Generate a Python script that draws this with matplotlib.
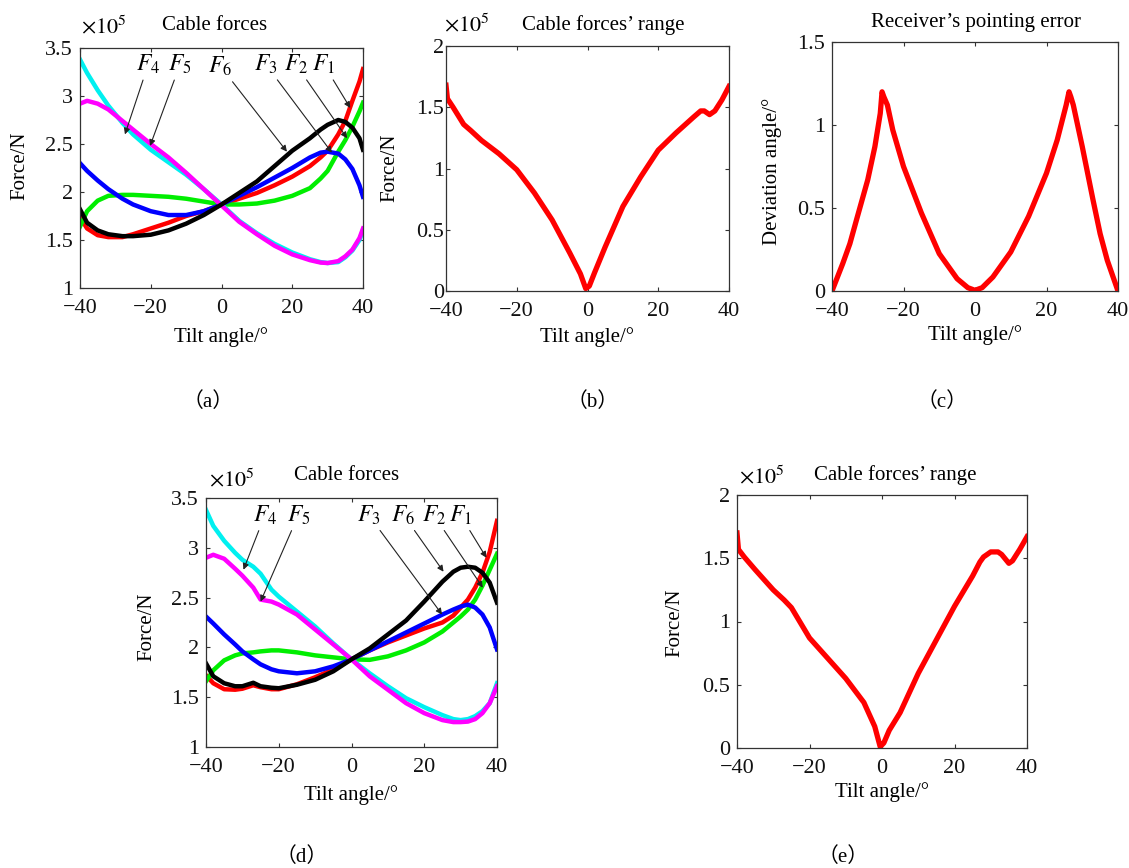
import matplotlib
matplotlib.use('Agg')
import matplotlib.pyplot as plt
from matplotlib.ticker import FuncFormatter

plt.rcParams['font.family'] = ['Liberation Serif', 'Noto Sans CJK SC']
plt.rcParams['mathtext.fontset'] = 'stix'

# cable forces, six cables, first configuration (x1e5 N)
a_x = [-40, -38, -35, -32, -28, -25, -20, -15, -10, -5, 0, 5, 10, 15, 20, 25, 28, 30, 33, 35, 37, 39, 40]
a_f1 = [1.74, 1.62, 1.55, 1.53, 1.53, 1.56, 1.62, 1.68, 1.75, 1.80, 1.87, 1.93, 1.99, 2.07, 2.16, 2.27, 2.36, 2.43, 2.60, 2.74, 2.95, 3.15, 3.28]
a_f2 = [1.64, 1.80, 1.91, 1.96, 1.97, 1.97, 1.96, 1.95, 1.93, 1.90, 1.87, 1.87, 1.88, 1.91, 1.96, 2.04, 2.14, 2.22, 2.42, 2.54, 2.68, 2.84, 2.93]
a_f3 = [2.30, 2.22, 2.12, 2.03, 1.93, 1.87, 1.80, 1.76, 1.76, 1.80, 1.87, 1.96, 2.05, 2.15, 2.25, 2.36, 2.41, 2.42, 2.40, 2.34, 2.24, 2.07, 1.95]
a_f4 = [3.38, 3.24, 3.06, 2.90, 2.72, 2.60, 2.44, 2.31, 2.18, 2.03, 1.87, 1.70, 1.57, 1.46, 1.37, 1.30, 1.27, 1.26, 1.27, 1.32, 1.39, 1.50, 1.60]
a_f5 = [2.92, 2.95, 2.92, 2.86, 2.74, 2.65, 2.50, 2.36, 2.20, 2.03, 1.86, 1.69, 1.56, 1.44, 1.35, 1.29, 1.265, 1.26, 1.28, 1.33, 1.40, 1.52, 1.62]
a_f6 = [1.82, 1.68, 1.60, 1.56, 1.54, 1.54, 1.555, 1.60, 1.67, 1.76, 1.87, 1.99, 2.11, 2.27, 2.43, 2.56, 2.65, 2.70, 2.75, 2.73, 2.67, 2.56, 2.44]

# cable forces, second configuration
d_x = [-40, -38, -35, -32, -30, -27, -25, -22, -20, -15, -10, -5, 0, 5, 10, 15, 20, 25, 28, 30, 32, 34, 36, 38, 40]
d_f1 = [1.72, 1.64, 1.58, 1.575, 1.585, 1.62, 1.60, 1.58, 1.58, 1.63, 1.70, 1.78, 1.88, 1.97, 2.05, 2.12, 2.19, 2.25, 2.32, 2.40, 2.48, 2.60, 2.75, 2.96, 3.27]
d_f2 = [1.66, 1.77, 1.87, 1.92, 1.94, 1.95, 1.96, 1.97, 1.97, 1.95, 1.92, 1.90, 1.88, 1.875, 1.91, 1.97, 2.05, 2.16, 2.25, 2.31, 2.38, 2.48, 2.62, 2.78, 2.94]
d_f3 = [2.31, 2.24, 2.13, 2.03, 1.96, 1.88, 1.83, 1.78, 1.76, 1.74, 1.76, 1.81, 1.88, 1.97, 2.06, 2.15, 2.24, 2.33, 2.38, 2.41, 2.43, 2.40, 2.33, 2.20, 1.98]
d_f4 = [3.38, 3.22, 3.07, 2.95, 2.88, 2.81, 2.74, 2.58, 2.51, 2.36, 2.21, 2.04, 1.88, 1.74, 1.61, 1.49, 1.40, 1.32, 1.28, 1.27, 1.28, 1.31, 1.36, 1.44, 1.64]
d_f5 = [2.90, 2.93, 2.89, 2.79, 2.72, 2.60, 2.48, 2.46, 2.43, 2.33, 2.18, 2.03, 1.88, 1.71, 1.575, 1.44, 1.34, 1.27, 1.25, 1.25, 1.255, 1.28, 1.34, 1.44, 1.61]
d_f6 = [1.84, 1.71, 1.64, 1.61, 1.61, 1.645, 1.61, 1.595, 1.59, 1.625, 1.675, 1.76, 1.88, 1.99, 2.13, 2.27, 2.46, 2.66, 2.76, 2.80, 2.81, 2.80, 2.75, 2.65, 2.45]

# force range (max - min), both configurations
b_x = [-40, -39.6, -38, -35, -33, -30, -25, -20, -15, -10, -5, -2, -0.5, 0.5, 2, 5, 10, 15, 20, 25, 30, 32, 33, 34.5, 36, 38, 40]
b_y = [1.68, 1.57, 1.50, 1.36, 1.31, 1.23, 1.12, 0.99, 0.80, 0.58, 0.31, 0.14, 0.02, 0.04, 0.15, 0.36, 0.69, 0.93, 1.15, 1.29, 1.42, 1.47, 1.47, 1.44, 1.47, 1.56, 1.67]
e_x = [-40, -39.6, -38, -35, -30, -27, -25, -20, -15, -10, -5, -2, -0.5, 0.5, 2, 5, 10, 15, 20, 25, 27, 28, 30, 32, 33, 35, 36, 38, 40]
e_y = [1.70, 1.57, 1.51, 1.41, 1.25, 1.17, 1.11, 0.87, 0.71, 0.55, 0.36, 0.17, 0.01, 0.04, 0.14, 0.28, 0.59, 0.855, 1.12, 1.36, 1.47, 1.51, 1.55, 1.55, 1.53, 1.46, 1.48, 1.57, 1.67]

# receiver pointing error (deg)
c_x = [-40, -37, -35, -33, -30, -28, -26.5, -26, -25.5, -24.5, -23, -20, -15, -10, -5, -2, 0, 2, 5, 10, 15, 20, 23, 25.5, 26.3, 26.8, 27.5, 30, 33, 35, 37, 40]
c_y = [0, 0.165, 0.285, 0.44, 0.67, 0.87, 1.07, 1.20, 1.17, 1.12, 0.97, 0.75, 0.47, 0.225, 0.074, 0.02, 0.004, 0.02, 0.084, 0.235, 0.45, 0.71, 0.91, 1.12, 1.20, 1.17, 1.12, 0.87, 0.55, 0.345, 0.185, 0]

colors = ['#ff0000', '#00ee00', '#0000ff', '#00f0f0', '#ff00ff', '#000000']

# label text position and arrow tip for each cable
a_notes = [('$F_4$', (-20.7, 3.33), (-27.3, 2.60)),
           ('$F_5$', (-11.7, 3.33), (-20.2, 2.48)),
           ('$F_6$', (-0.3, 3.31), (18.5, 2.42)),
           ('$F_3$', (12.5, 3.33), (31.2, 2.41)),
           ('$F_2$', (21.0, 3.33), (35.5, 2.56)),
           ('$F_1$', (28.9, 3.33), (36.4, 2.875))]
d_notes = [('$F_4$', (-23.8, 3.33), (-29.7, 2.78)),
           ('$F_5$', (-14.6, 3.33), (-25.0, 2.46)),
           ('$F_3$', (4.7, 3.33), (24.9, 2.33)),
           ('$F_6$', (14.3, 3.33), (25.3, 2.76)),
           ('$F_2$', (22.6, 3.33), (36.1, 2.60)),
           ('$F_1$', (29.9, 3.33), (37.1, 2.90))]

W, H = 1129, 868
fig = plt.figure(figsize=(W / 100, H / 100), dpi=100)


def axes_px(l, t, r, b):
    return fig.add_axes([l / W, 1 - b / H, (r - l) / W, (b - t) / H])


def ptext(x, y, s, **kw):
    kw.setdefault('ha', 'center')
    kw.setdefault('va', 'center')
    kw.setdefault('fontsize', 15)
    fig.text(x / W, 1 - y / H, s, **kw)


def style(ax, ylim, yticks, ypad=5):
    ax.set_xlim(-40, 40)
    ax.set_xticks([-40, -20, 0, 20, 40])
    ax.set_ylim(*ylim)
    ax.set_yticks(yticks)
    ax.yaxis.set_major_formatter(FuncFormatter(lambda v, p: '%g' % v))
    ax.tick_params(direction='in', top=True, right=True, length=3, width=0.8,
                   labelsize=16, color='#333', labelcolor='#111')
    ax.tick_params(axis='y', pad=ypad)
    ax.tick_params(axis='x', pad=8)
    for s in ax.spines.values():
        s.set_linewidth(0.9)
        s.set_color('#333')


def forces(ax, x, series, notes):
    for ys, c in zip(series, colors):
        ax.plot(x, ys, color=c, lw=3.2, solid_joinstyle='round')
    for txt, pos, tip in notes:
        ax.annotate(txt, xy=tip, xytext=pos, fontsize=17, ha='center', va='center',
                    arrowprops=dict(arrowstyle='-|>', color='#222', lw=0.8,
                                    mutation_scale=9, shrinkA=1, shrinkB=0))


# (a)
ax = axes_px(80, 48, 363, 288)
forces(ax, a_x, [a_f1, a_f2, a_f3, a_f4, a_f5, a_f6], a_notes)
style(ax, (1, 3.5), [1, 1.5, 2, 2.5, 3, 3.5])
ptext(215, 25, 'Cable forces')
ptext(104, 27, r'$\times 10^5$', fontsize=16)
ptext(20, 166, 'Force/N', rotation=90)
ptext(221, 337, 'Tilt angle/°')
ptext(208, 402, '（a）', fontsize=15)

# (b)
ax = axes_px(446, 46, 729, 291)
ax.plot(b_x, b_y, color='#ff0000', lw=3.8, solid_joinstyle='round')
style(ax, (0, 2), [0, 0.5, 1, 1.5, 2], ypad=1.5)
ptext(603, 25, 'Cable forces’ range')
ptext(467, 25, r'$\times 10^5$', fontsize=16)
ptext(390, 168, 'Force/N', rotation=90)
ptext(587, 337, 'Tilt angle/°')
ptext(593, 402, '（b）', fontsize=15)

# (c)
ax = axes_px(832, 42, 1118, 291)
ax.plot(c_x, c_y, color='#ff0000', lw=3.8, solid_joinstyle='round')
style(ax, (0, 1.5), [0, 0.5, 1, 1.5])
ptext(976, 22, 'Receiver’s pointing error')
ptext(772, 171, 'Deviation angle/°', rotation=90)
ptext(975, 335, 'Tilt angle/°')
ptext(942, 402, '（c）', fontsize=15)

# (d)
ax = axes_px(206, 498, 497, 747)
forces(ax, d_x, [d_f1, d_f2, d_f3, d_f4, d_f5, d_f6], d_notes)
style(ax, (1, 3.5), [1, 1.5, 2, 2.5, 3, 3.5])
ptext(347, 475, 'Cable forces')
ptext(232, 480, r'$\times 10^5$', fontsize=16)
ptext(147, 627, 'Force/N', rotation=90)
ptext(351, 795, 'Tilt angle/°')
ptext(302, 857, '（d）', fontsize=15)

# (e)
ax = axes_px(737, 495, 1027, 748)
ax.plot(e_x, e_y, color='#ff0000', lw=3.8, solid_joinstyle='round')
style(ax, (0, 2), [0, 0.5, 1, 1.5, 2])
ptext(895, 475, 'Cable forces’ range')
ptext(762, 477, r'$\times 10^5$', fontsize=16)
ptext(675, 623, 'Force/N', rotation=90)
ptext(882, 792, 'Tilt angle/°')
ptext(843, 857, '（e）', fontsize=15)

fig.savefig('out.png', dpi=100)
